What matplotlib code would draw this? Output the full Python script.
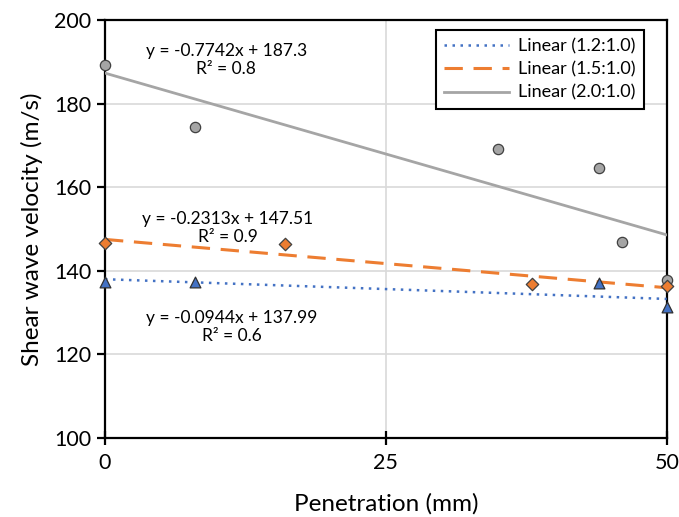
import matplotlib.pyplot as plt
import numpy as np

plt.rcParams['font.family'] = ['Lato', 'DejaVu Sans']

# measured points, per ratio
x_12 = [0, 8, 44, 50]
v_12 = [137.4, 137.4, 137.2, 131.4]
x_15 = [0, 16, 38, 50]
v_15 = [146.6, 146.4, 136.8, 136.3]
x_20 = [0, 8, 35, 44, 46, 50]
v_20 = [189.2, 174.5, 169.1, 164.5, 146.9, 137.9]

# linear trend coefficients (slope, intercept) and R^2
fit_12 = (-0.0944, 137.99, 0.6)
fit_15 = (-0.2313, 147.51, 0.9)
fit_20 = (-0.7742, 187.3, 0.8)

blue = '#4472c4'
orange = '#ed7d31'
gray = '#a5a5a5'

fig = plt.figure(figsize=(6.79, 5.17), dpi=100)
ax = fig.add_axes([0.1546, 0.1528, 0.8274, 0.8085])

xs = np.array([0, 50])
l1, = ax.plot(xs, fit_12[0] * xs + fit_12[1], color=blue, lw=1.8, ls=(0, (1, 2.2)), zorder=3)
l2, = ax.plot(xs, fit_15[0] * xs + fit_15[1], color=orange, lw=2.2, ls=(0, (6, 3.5)), zorder=3)
l3, = ax.plot(xs, fit_20[0] * xs + fit_20[1], color=gray, lw=2, zorder=3)

ax.scatter(x_20, v_20, s=55, marker='o', color=gray, edgecolor='#404040', lw=0.9, zorder=4, clip_on=False)
ax.scatter(x_15, v_15, s=40, marker='D', color=orange, edgecolor='#404040', lw=0.9, zorder=4, clip_on=False)
ax.scatter(x_12, v_12, s=60, marker='^', color=blue, edgecolor='#303030', lw=0.9, zorder=5, clip_on=False)

def eq_text(fit):
    return 'y = %sx + %s\nR² = %s' % (fit[0], fit[1], fit[2])

ax.text(10.8, 190.4, eq_text(fit_20), ha='center', va='center', fontsize=12.5, linespacing=1.2)
ax.text(10.9, 150.2, eq_text(fit_15), ha='center', va='center', fontsize=12.5, linespacing=1.2)
ax.text(11.3, 126.6, eq_text(fit_12), ha='center', va='center', fontsize=12.5, linespacing=1.2)

ax.set_xlim(0, 50)
ax.set_ylim(100, 200)
ax.set_xticks([0, 25, 50])
ax.set_yticks([100, 120, 140, 160, 180, 200])
ax.grid(True, color='#d9d9d9', lw=1.2, zorder=0)
ax.set_axisbelow(True)
for s in ax.spines.values():
    s.set_linewidth(1.6)
    s.set_color('black')
ax.tick_params(axis='x', direction='inout', length=10, width=1.6, labelsize=15.5, pad=6)
ax.tick_params(axis='y', direction='out', length=6, width=1.6, labelsize=15.5, pad=4)

ax.set_xlabel('Penetration (mm)', fontsize=17.5, labelpad=14)
ax.set_ylabel('Shear wave velocity (m/s)', fontsize=17.5, labelpad=8)

leg = ax.legend([l1, l2, l3], ['Linear (1.2:1.0)', 'Linear (1.5:1.0)', 'Linear (2.0:1.0)'],
                loc='upper right', bbox_to_anchor=(0.965, 0.985), fontsize=13,
                fancybox=False, edgecolor='black', framealpha=1, handlelength=3.6,
                handletextpad=0.5, borderpad=0.45, labelspacing=0.4, borderaxespad=0.2)
leg.get_frame().set_linewidth(1.5)

fig.savefig('out.png', dpi=100)
